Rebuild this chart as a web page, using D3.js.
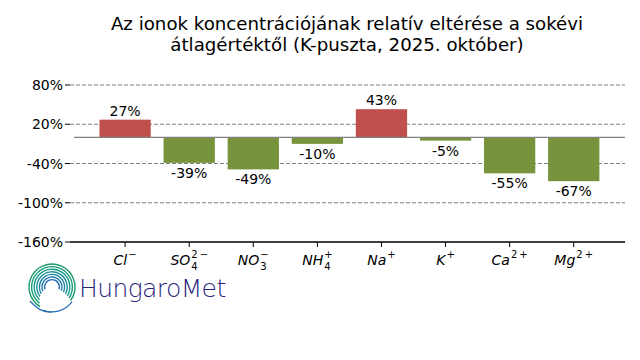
<!DOCTYPE html>
<html><head><meta charset="utf-8">
<script src="https://cdn.jsdelivr.net/npm/d3@7/dist/d3.min.js"></script>
<style>body{margin:0;background:#fff}svg{display:block}text{font-family:"DejaVu Sans",sans-serif}</style>
</head><body>
<svg id="c" width="640" height="360"></svg>
<script>
const titleLines = ["Az ionok koncentrációjának relatív eltérése a sokévi", "átlagértéktől (K-puszta, 2025. október)"];
const ionBase = ["Cl", "SO", "NO", "NH", "Na", "K", "Ca", "Mg"];
const ionSub  = ["", "4", "3", "4", "", "", "", ""];
const ionSup  = ["\u2212", "2\u2009\u2212", "\u2212", "+", "+", "+", "2\u2009+", "2\u2009+"];
const values  = [27, -39, -49, -10, 43, -5, -55, -67];
const yTicks  = [80, 20, -40, -100, -160];

const svg = d3.select("#c");
const L = 70, R = 625;
const x = d3.scaleLinear().domain([-0.86, 7.8]).range([L, R]);
const y = d3.scaleLinear().domain([-160, 80]).range([242, 85]);
const bw = 0.8;

// title
svg.append("text").attr("x", 347).attr("y", 30).attr("text-anchor", "middle")
  .attr("font-size", 18.2).text(titleLines[0]);
svg.append("text").attr("x", 347).attr("y", 51).attr("text-anchor", "middle")
  .attr("font-size", 18.2).text(titleLines[1]);

// grid
svg.append("g").selectAll("line").data(yTicks.slice(0, 4)).join("line")
  .attr("x1", L).attr("x2", R).attr("y1", d => y(d)).attr("y2", d => y(d))
  .attr("stroke", "#808080").attr("stroke-width", 1).attr("stroke-dasharray", "4,2");

// y axis ticks (no spine)
const ya = svg.append("g");
ya.selectAll("line").data(yTicks).join("line")
  .attr("x1", L - 5).attr("x2", L).attr("y1", d => y(d)).attr("y2", d => y(d))
  .attr("stroke", "#000").attr("stroke-width", 1);
ya.selectAll("text").data(yTicks).join("text")
  .attr("x", L - 7).attr("y", d => y(d) + 5).attr("text-anchor", "end")
  .attr("font-size", 14).text(d => d + "%");

// bars
svg.append("g").selectAll("rect").data(values).join("rect")
  .attr("x", (d, i) => x(i - bw / 2)).attr("width", x(bw) - x(0))
  .attr("y", d => y(Math.max(0, d))).attr("height", d => Math.abs(y(d) - y(0)))
  .attr("fill", d => d >= 0 ? "#c0504d" : "#77933c");

// zero line
svg.append("line").attr("x1", L + 4).attr("x2", R).attr("y1", y(0)).attr("y2", y(0))
  .attr("stroke", "#808080").attr("stroke-width", 1.3);

// value labels
svg.append("g").selectAll("text").data(values).join("text")
  .attr("x", (d, i) => x(i)).attr("y", d => d >= 0 ? y(d) - 4 : y(d) + 15)
  .attr("text-anchor", "middle").attr("font-size", 14).text(d => d + "%");

// x axis
svg.append("line").attr("x1", L).attr("x2", R).attr("y1", 242).attr("y2", 242)
  .attr("stroke", "#000").attr("stroke-width", 1.3);
const xa = svg.append("g");
ionBase.forEach((b, i) => {
  const cx = x(i);
  xa.append("line").attr("x1", cx).attr("x2", cx).attr("y1", 242).attr("y2", 247)
    .attr("stroke", "#000");
  const g = xa.append("g");
  const main = g.append("text").attr("x", 0).attr("y", 265).attr("font-size", 14)
    .attr("font-style", "italic").text(b);
  const w = main.node().getComputedTextLength();
  let sw = 0, bw2 = 0;
  if (ionSup[i]) {
    const s = g.append("text").attr("x", w + 1).attr("y", 258).attr("font-size", 10)
      .text(ionSup[i]);
    sw = s.node().getComputedTextLength();
  }
  if (ionSub[i]) {
    const s = g.append("text").attr("x", w + 1).attr("y", 270).attr("font-size", 10)
      .text(ionSub[i]);
    bw2 = s.node().getComputedTextLength();
  }
  const tot = w + 1 + Math.max(sw, bw2);
  g.attr("transform", `translate(${cx - tot / 2},0)`);
});

// logo
const logo = svg.append("g").attr("transform", "translate(52,287)");
const arcCols = ["#1f9a6a", "#1a9c7a", "#18998a", "#1a8f98", "#1e84a4", "#2479ae", "#2a6fb5"];
arcCols.forEach((c, k) => {
  const r = 23 - k * 2.6;
  const a0 = -2.6 + k * 0.12, a1 = 2.2 - k * 0.05;
  logo.append("path").attr("d", d3.arc()({innerRadius: r - 0.7, outerRadius: r + 0.7, startAngle: a0, endAngle: a1}))
    .attr("fill", c);
});
logo.append("path").attr("d", d3.arc()({innerRadius: 24.3, outerRadius: 25.5, startAngle: 2.2, endAngle: 3.5}))
  .attr("fill", "#2a6fb5");
logo.append("path").attr("d", "M-22,14 Q-12,26 0,25").attr("fill", "none").attr("stroke", "#2a6fb5").attr("stroke-width", 1.2);
svg.append("text").attr("x", 79).attr("y", 297).attr("font-family", "Lato, 'Open Sans', sans-serif")
  .attr("font-weight", 300).attr("font-size", 25).attr("fill", "#27247a").attr("letter-spacing", "-0.6")
  .text("HungaroMet");
</script>
</body></html>
